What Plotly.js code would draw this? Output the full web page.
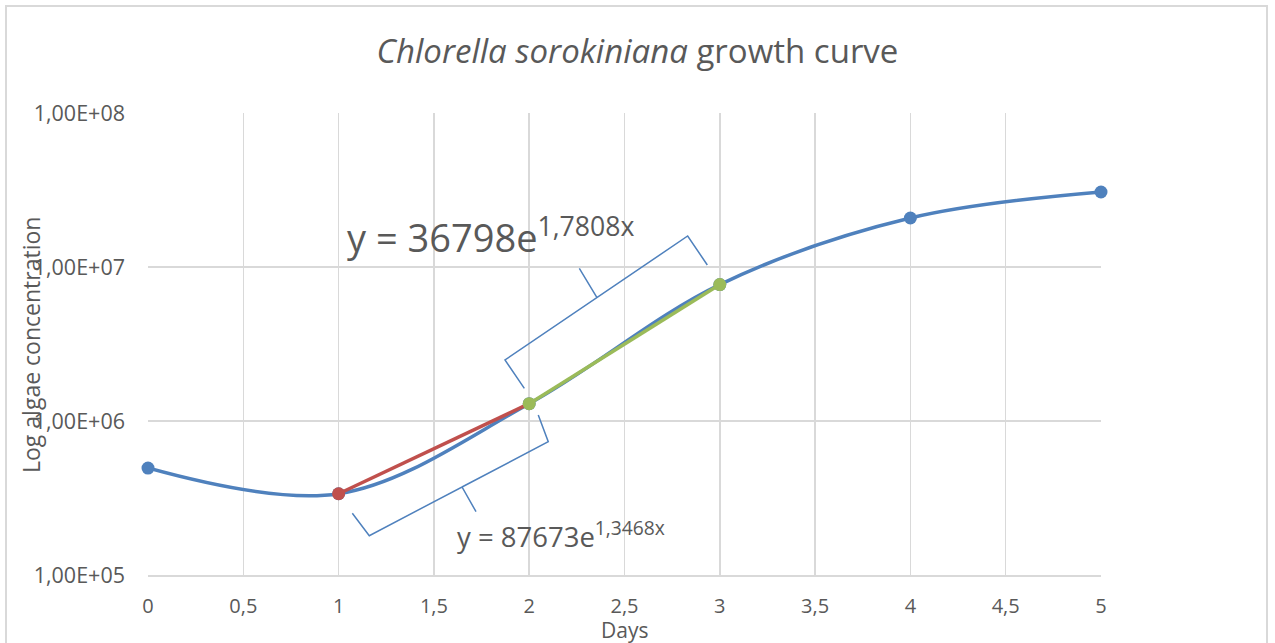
<!DOCTYPE html>
<html>
<head>
<meta charset="utf-8">
<script src="https://cdn.plot.ly/plotly-3.0.1.min.js"></script>
<style>
  html, body { margin: 0; padding: 0; background: #ffffff; }
  #wrap { position: relative; width: 1275px; height: 643px; overflow: hidden; }
  #chart { position: absolute; left: 0; top: 0; width: 1275px; height: 643px; }
  #frame { position: absolute; left: 5px; top: 5px; width: 1263px; height: 700px;
           border: 2px solid #d9d9d9; box-sizing: border-box; pointer-events: none; }
</style>
</head>
<body>
<div id="wrap"><div id="chart"></div><div id="frame"></div></div>
<script>
// ---- data ----
const days = [0, 1, 2, 3, 4, 5];
const concentration = [4.95e5, 3.37e5, 1.296e6, 7.69e6, 2.08e7, 3.07e7];
const lagDays = [1, 2];
const lagFit = [3.37e5, 1.296e6];
const expDays = [2, 3];
const expFit = [1.296e6, 7.69e6];
const xTickVals = [0, 0.5, 1, 1.5, 2, 2.5, 3, 3.5, 4, 4.5, 5];
const xTickText = ["0", "0,5", "1", "1,5", "2", "2,5", "3", "3,5", "4", "4,5", "5"];
const yTickVals = [1e5, 1e6, 1e7, 1e8];
const yTickText = ["1,00E+05", "1,00E+06", "1,00E+07", "1,00E+08"];
const eqExp = "y = 36798e<sup>1,7808x</sup>";
const eqLag = "y = 87673e<sup>1,3468x</sup>";

const BLUE = "#4f81bd", RED = "#c0504d", GREEN = "#9bbb59", TXT = "#595959";
const FONT = "Open Sans, sans-serif";

// plot area in pixels
const L = 148, R = 1101, T = 113, B = 575;
function px(x) { return ((x - L) / (R - L)).toFixed(4); }
function py(y) { return ((B - y) / (B - T)).toFixed(4); }
function path(pts) {
  return pts.map(seg => seg.map((p, i) => (i ? "L" : "M") + px(p[0]) + "," + py(p[1])).join(" ")).join(" ");
}

const traces = [
  { x: days, y: concentration, type: "scatter", mode: "lines+markers", cliponaxis: false,
    line: { color: BLUE, width: 3.5, shape: "spline", smoothing: 1 },
    marker: { color: BLUE, size: 13 }, hoverinfo: "skip" },
  { x: lagDays, y: lagFit, type: "scatter", mode: "lines", cliponaxis: false,
    line: { color: RED, width: 3.5 }, hoverinfo: "skip" },
  { x: expDays, y: expFit, type: "scatter", mode: "lines", cliponaxis: false,
    line: { color: GREEN, width: 3.5 }, hoverinfo: "skip" },
  { x: [lagDays[0]], y: [lagFit[0]], type: "scatter", mode: "markers", cliponaxis: false,
    marker: { color: RED, size: 13 }, hoverinfo: "skip" },
  { x: expDays, y: expFit, type: "scatter", mode: "markers", cliponaxis: false,
    marker: { color: GREEN, size: 13 }, hoverinfo: "skip" }
];

const shapes = [
  { type: "path", xref: "paper", yref: "paper", layer: "above",
    path: path([[[524.3, 388.3], [505, 360], [687.7, 236], [707.3, 265]], [[596.7, 297], [579.3, 268.3]]]),
    line: { color: BLUE, width: 1.5 } },
  { type: "path", xref: "paper", yref: "paper", layer: "above",
    path: path([[[352.3, 513.3], [369.3, 535.7], [462, 487], [476, 511.7]], [[462, 487], [548.3, 441.7], [538.3, 415]]]),
    line: { color: BLUE, width: 1.5 } }
];

const layout = {
  width: 1275, height: 643,
  margin: { l: L, r: 1275 - R, t: T, b: 643 - B, pad: 0 },
  paper_bgcolor: "rgba(0,0,0,0)", plot_bgcolor: "#ffffff",
  showlegend: false,
  font: { family: FONT, color: TXT, size: 20 },
  title: { text: "<i>Chlorella sorokiniana</i> growth curve",
           font: { family: FONT, size: 33, color: TXT },
           x: 0.5, xanchor: "center", y: 1 - 51 / 643, yanchor: "middle" },
  xaxis: { range: [0, 5], tickmode: "array", tickvals: xTickVals, ticktext: xTickText,
           showgrid: true, gridcolor: "#d9d9d9", gridwidth: 1.5, zeroline: false,
           showline: true, linecolor: "#d9d9d9", linewidth: 1.5, ticks: "",
           ticklabelstandoff: 12, tickfont: { size: 20, color: TXT, family: FONT } },
  yaxis: { type: "log", range: [5, 8], tickmode: "array", tickvals: yTickVals, ticktext: yTickText,
           showgrid: true, gridcolor: "#d9d9d9", gridwidth: 1.5, zeroline: false,
           showline: false, ticks: "", ticklabelstandoff: 22,
           tickfont: { size: 21.5, color: TXT, family: FONT } },
  shapes: shapes,
  annotations: [
    { text: "Log algae concentration", xref: "paper", yref: "paper", x: px(31), y: py(345),
      textangle: -90, showarrow: false, xanchor: "center", yanchor: "middle",
      font: { size: 23, color: TXT, family: FONT } },
    { text: "Days", xref: "paper", yref: "paper", x: px(625), y: py(630),
      showarrow: false, xanchor: "center", yanchor: "middle",
      font: { size: 21, color: TXT, family: FONT } },
    { text: eqExp, xref: "paper", yref: "paper", x: px(345), y: py(236),
      showarrow: false, xanchor: "left", yanchor: "middle",
      font: { size: 38, color: TXT, family: FONT } },
    { text: eqLag, xref: "paper", yref: "paper", x: px(455), y: py(534),
      showarrow: false, xanchor: "left", yanchor: "middle",
      font: { size: 27.5, color: TXT, family: FONT } }
  ]
};

Plotly.newPlot("chart", traces, layout, { staticPlot: true, displayModeBar: false });
</script>
</body>
</html>
